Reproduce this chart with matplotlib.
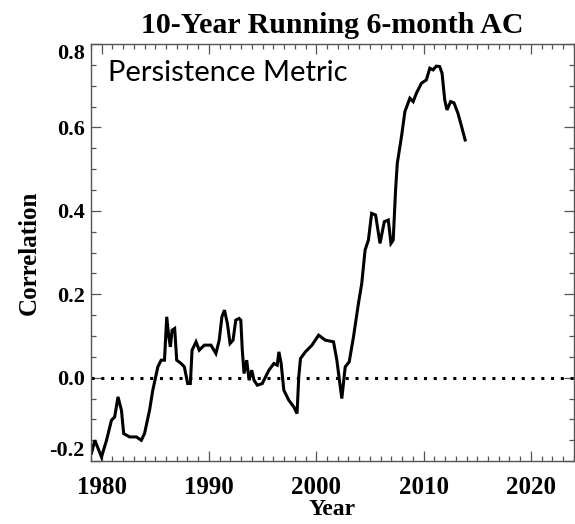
import matplotlib
matplotlib.use("Agg")
import matplotlib.pyplot as plt
from matplotlib.ticker import MultipleLocator

# 10-year running lag-6-month autocorrelation
years = [1979.06, 1979.37, 1979.99, 1980.46, 1980.92, 1981.22, 1981.53, 1981.85,
         1982.06, 1982.61, 1983.24, 1983.70, 1984.00, 1984.47, 1984.77, 1985.24,
         1985.55, 1985.86, 1986.07, 1986.26, 1986.41, 1986.57, 1986.81, 1987.00,
         1987.41, 1987.71, 1988.02, 1988.27, 1988.43, 1988.80, 1989.10, 1989.57,
         1990.19, 1990.65, 1990.96, 1991.21, 1991.45, 1991.72, 1991.97, 1992.25,
         1992.50, 1992.81, 1992.97, 1993.11, 1993.27, 1993.52, 1993.74, 1993.99,
         1994.20, 1994.51, 1994.97, 1995.59, 1996.05, 1996.36, 1996.52, 1996.73,
         1996.98, 1997.44, 1997.91, 1998.21, 1998.37, 1998.53, 1998.99, 1999.60,
         2000.22, 2000.84, 2001.61, 2001.92, 2002.38, 2002.70, 2003.07, 2003.47,
         2003.93, 2004.24, 2004.55, 2004.86, 2005.16, 2005.53, 2005.94, 2006.34,
         2006.71, 2006.96, 2007.17, 2007.39, 2007.55, 2007.94, 2008.26, 2008.72,
         2009.03, 2009.33, 2009.80, 2010.26, 2010.58, 2010.88, 2011.19, 2011.50,
         2011.72, 2011.97, 2012.18, 2012.52, 2012.83, 2013.20, 2013.50, 2013.87]
corr = [-0.181, -0.150, -0.190, -0.150, -0.102, -0.094, -0.046, -0.078,
        -0.134, -0.142, -0.142, -0.150, -0.134, -0.078, -0.030, 0.026,
        0.042, 0.042, 0.146, 0.098, 0.074, 0.114, 0.118, 0.042,
        0.034, 0.026, -0.014, -0.014, 0.066, 0.086, 0.066, 0.078,
        0.078, 0.058, 0.090, 0.146, 0.162, 0.130, 0.082, 0.090,
        0.138, 0.142, 0.138, 0.066, 0.010, 0.042, -0.006, 0.018,
        -0.006, -0.018, -0.014, 0.018, 0.034, 0.030, 0.062, 0.034,
        -0.030, -0.054, -0.070, -0.086, 0.002, 0.046, 0.062, 0.078,
        0.102, 0.090, 0.086, 0.042, -0.050, 0.026, 0.038, 0.098,
        0.178, 0.226, 0.306, 0.330, 0.394, 0.390, 0.322, 0.374,
        0.378, 0.322, 0.330, 0.450, 0.514, 0.578, 0.638, 0.670,
        0.662, 0.682, 0.706, 0.714, 0.742, 0.738, 0.747, 0.746,
        0.730, 0.666, 0.642, 0.662, 0.659, 0.634, 0.606, 0.570]

xticks = [1980, 1990, 2000, 2010, 2020]
yticks = [-0.2, 0.0, 0.2, 0.4, 0.6, 0.8]

serif = ["Liberation Serif", "DejaVu Serif"]

fig = plt.figure(figsize=(5.75, 5.24), dpi=100)
ax = fig.add_axes([0.158, 0.120, 0.840, 0.796])

ax.plot(years, corr, color="black", lw=2.2, solid_joinstyle="miter")
ax.axhline(0.0, color="black", lw=2.2, ls=(0, (1, 2.2)))

ax.set_xlim(1979, 2024)
ax.set_ylim(-0.2, 0.8)
ax.set_xticks(xticks)
ax.set_yticks(yticks)
ax.set_yticklabels([f"{v:.1f}" for v in yticks])
ax.xaxis.set_minor_locator(MultipleLocator(1))
ax.yaxis.set_minor_locator(MultipleLocator(0.05))
ax.tick_params(which="both", direction="in", top=True, right=True,
               color="#555555", width=0.9)
ax.tick_params(which="major", length=7)
ax.tick_params(which="minor", length=3.5)
ax.tick_params(axis="x", pad=10.5)
ax.tick_params(axis="y", pad=4.5)
for lab in ax.get_xticklabels():
    lab.set_family(serif)
    lab.set_weight("bold")
    lab.set_fontsize(18)
ylabs = ax.get_yticklabels()
for lab in ylabs:
    lab.set_family(serif)
    lab.set_weight("bold")
    lab.set_fontsize(16)
# end labels sit inside the axis range
ylabs[0].set_va("bottom")
ylabs[-1].set_va("top")
for sp in ax.spines.values():
    sp.set_color("#555555")
    sp.set_linewidth(1.0)

ax.set_title("10-Year Running 6-month AC", family=serif, weight="bold",
             fontsize=21.5, pad=8)
ax.set_xlabel("Year", family=serif, weight="bold", fontsize=17, labelpad=0.5)
ax.set_ylabel("Correlation", family=serif, weight="bold", fontsize=18,
              labelpad=6)

ax.text(0.035, 0.962, "Persistence Metric", transform=ax.transAxes,
        family=["Lato", "DejaVu Sans"], fontsize=21, va="top", ha="left")

fig.savefig("out.png", dpi=100)
